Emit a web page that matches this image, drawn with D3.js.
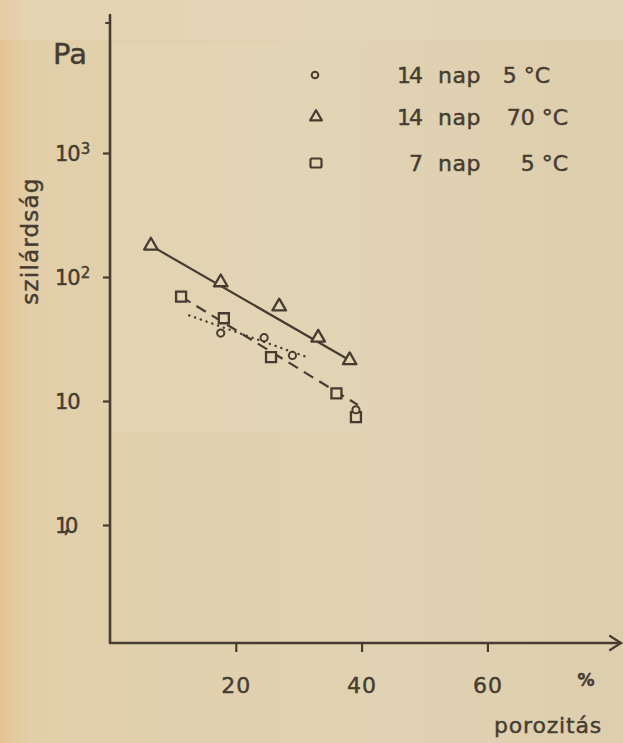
<!DOCTYPE html>
<html>
<head>
<meta charset="utf-8">
<script src="https://cdn.jsdelivr.net/npm/d3@7"></script>
<style>
html,body{margin:0;padding:0;background:#dfd0ae;}
svg{display:block;}
text{font-family:"DejaVu Sans",sans-serif;fill:#463c31;stroke:#463c31;stroke-width:0.45px;}
</style>
</head>
<body>
<svg id="chart" width="623" height="743"></svg>
<script>
// ---- data ----
const triX = [6.5, 17.6, 26.9, 33.1, 38.1];          // 14 nap 70 °C
const triY = [179, 90.6, 57.8, 32.4, 21.3];
const sqX  = [11.3, 18.1, 25.6, 36.0, 39.1];          // 7 nap 5 °C
const sqY  = [69.5, 46.5, 22.6, 11.5, 7.4];
const circX = [17.6, 24.5, 29.0, 39.1];               // 14 nap 5 °C
const circY = [35.3, 32.4, 23.3, 8.5];
const solidFitX = [6.5, 38.1];
const solidFitY = [179, 21.3];
const dashedFitX = [11.3, 39.4];
const dashedFitY = [69.5, 9.3];
const dottedFitX = [12.6, 31.0];
const dottedFitY = [49, 22.9];
const xTicks = [20, 40, 60];
const yTicks = [1, 10, 100, 1000];
const yTickBase = ["1,0", "10", "10", "10"];
const yTickSup  = ["", "", "2", "3"];
const legendDays  = ["14", "14", "7"];
const legendUnit  = ["nap", "nap", "nap"];
const legendTemps = ["5 °C", "70 °C", "5 °C"];
const legendShapes = ["circle", "triangle", "square"];
const yUnit = "Pa";
const yTitle = "szilárdság";
const xUnit = "%";
const xTitle = "porozitás";

// ---- drawing ----
const ink = "#463c31";
const svg = d3.select("#chart");

// background
const defs = svg.append("defs");
const g1 = defs.append("linearGradient").attr("id","bg").attr("x1","0").attr("x2","1").attr("y1","0").attr("y2","0");
g1.append("stop").attr("offset","0").attr("stop-color","#e7c393");
g1.append("stop").attr("offset","0.05").attr("stop-color","#e2cfaa");
g1.append("stop").attr("offset","0.6").attr("stop-color","#e0d2b2");
g1.append("stop").attr("offset","1").attr("stop-color","#ddcfae");
svg.append("rect").attr("width",623).attr("height",743).attr("fill","url(#bg)");
svg.append("rect").attr("x",0).attr("y",0).attr("width",623).attr("height",40).attr("fill","#e8dcc2").attr("opacity",0.35);
svg.append("rect").attr("x",112).attr("y",42).attr("width",255).attr("height",390).attr("fill","#e6dac0").attr("opacity",0.3);

const x = d3.scaleLinear().domain([0, 60]).range([110, 487.4]);
const y = d3.scaleLog().domain([1, 1000]).range([525, 153]);

const axisX0 = 110, axisY0 = 643, yTop = 15, xRight = 621;

// axis lines
const axes = svg.append("g").attr("stroke", ink).attr("stroke-width", 2.6).attr("fill","none").attr("stroke-linecap","round");
axes.append("path").attr("d", `M${axisX0},${yTop} L${axisX0},${axisY0} L${xRight},${axisY0}`).attr("stroke-linejoin","round");
axes.append("path").attr("d", `M${xRight-11},${axisY0-7} L${xRight},${axisY0} L${xRight-11},${axisY0+7}`).attr("stroke-width",2.2);
axes.append("path").attr("d", `M${axisX0-4},${yTop+8} L${axisX0},${yTop+8}`).attr("stroke-width",2);

// x axis ticks
const gx = svg.append("g").attr("transform", `translate(0,${axisY0})`)
  .call(d3.axisBottom(x).tickValues(xTicks).tickSize(9).tickFormat(d3.format("d")));
gx.select(".domain").remove();
gx.selectAll(".tick line").attr("stroke", ink).attr("stroke-width", 2.2);
gx.selectAll(".tick text").attr("y", 50).attr("dy", 0)
  .style("font-size","22px").style("font-family","DejaVu Sans").attr("fill", ink).attr("letter-spacing", 1);

// y axis ticks
const gy = svg.append("g").attr("transform", `translate(${axisX0},0)`)
  .call(d3.axisLeft(y).tickValues(yTicks).tickSize(7).tickFormat(""));
gy.select(".domain").remove();
gy.selectAll(".tick line").attr("stroke", ink).attr("stroke-width", 2.2);
gy.selectAll(".tick").each(function(d, i) {
  const t = d3.select(this).append("text")
    .attr("x", -55).attr("y", 0).attr("dy", "0.36em")
    .attr("text-anchor", "start").attr("fill", ink)
    .style("font-size", "21px");
  const base = t.append("tspan").text(yTickBase[i]);
  if (yTickBase[i] === "1,0") base.attr("letter-spacing", -5);
  else base.attr("letter-spacing", -1);
  if (yTickSup[i]) t.append("tspan").attr("dy", "-0.45em").attr("dx", 1).style("font-size","15px").text(yTickSup[i]);
});

// titles
svg.append("text").attr("x", 53).attr("y", 64).style("font-size","29px").text(yUnit);
svg.append("text").attr("transform","translate(38,241) rotate(-90)").attr("text-anchor","middle")
  .style("font-size","23px").attr("letter-spacing", 1.2).text(yTitle);
svg.append("text").attr("x", 586).attr("y", 686).attr("text-anchor","middle").style("font-size","17px").style("font-weight","bold").text(xUnit);
svg.append("text").attr("x", 548).attr("y", 733).attr("text-anchor","middle").style("font-size","22px").attr("letter-spacing", 0.8).text(xTitle);

// fit lines
const line = d3.line().x(d => x(d[0])).y(d => y(d[1]));
svg.append("path").datum(d3.zip(solidFitX, solidFitY)).attr("d", line)
  .attr("fill","none").attr("stroke", ink).attr("stroke-width", 2.2);
svg.append("path").datum(d3.zip(dashedFitX, dashedFitY)).attr("d", line)
  .attr("fill","none").attr("stroke", ink).attr("stroke-width", 2.2).attr("stroke-dasharray","11,7");
svg.append("path").datum(d3.zip(dottedFitX, dottedFitY)).attr("d", line)
  .attr("fill","none").attr("stroke", ink).attr("stroke-width", 2.4).attr("stroke-linecap","round").attr("stroke-dasharray","0.1,6");

// markers
const triSym = d3.symbol().type(d3.symbolTriangle).size(80);
const sqSym = d3.symbol().type(d3.symbolSquare).size(100);
const mk = svg.append("g").attr("fill", "#e3d5b5").attr("stroke", ink).attr("stroke-width", 2.3);
mk.selectAll(".tri").data(d3.zip(triX, triY)).join("path").attr("class","tri")
  .attr("d", triSym).attr("transform", d => `translate(${x(d[0])},${y(d[1])})`).attr("stroke-linejoin","round");
mk.selectAll(".sq").data(d3.zip(sqX, sqY)).join("path").attr("class","sq")
  .attr("d", sqSym).attr("transform", d => `translate(${x(d[0])},${y(d[1])})`);
mk.selectAll(".circ").data(d3.zip(circX, circY)).join("circle").attr("class","circ")
  .attr("cx", d => x(d[0])).attr("cy", d => y(d[1])).attr("r", 3.6).attr("stroke-width", 2);

// legend
const legTempX = [550, 568, 568];
const legMarkY = [75, 117, 163];
const leg = svg.append("g");
legendShapes.forEach((s, i) => {
  const my = legMarkY[i];
  if (s === "circle") leg.append("circle").attr("cx", 315).attr("cy", my).attr("r", 3.3)
    .attr("fill","none").attr("stroke", ink).attr("stroke-width", 2);
  else if (s === "triangle") leg.append("path").attr("d", d3.symbol().type(d3.symbolTriangle).size(60)())
    .attr("transform", `translate(316,${my})`).attr("fill","none").attr("stroke", ink).attr("stroke-width", 2.2).attr("stroke-linejoin","round");
  else leg.append("rect").attr("x", 310.5).attr("y", my - 4.5).attr("width", 11).attr("height", 9).attr("rx", 1.5)
    .attr("fill","none").attr("stroke", ink).attr("stroke-width", 2.2);
  const by = my + 8;
  leg.append("text").attr("x", 421).attr("y", by).attr("text-anchor","end").attr("letter-spacing",-2).style("font-size","22px").text(legendDays[i]);
  leg.append("text").attr("x", 438).attr("y", by).style("font-size","22px").attr("letter-spacing",0.5).text(legendUnit[i]);
  leg.append("text").attr("x", legTempX[i]).attr("y", by).attr("text-anchor","end").style("font-size","22px").text(legendTemps[i]);
});
</script>
</body>
</html>
